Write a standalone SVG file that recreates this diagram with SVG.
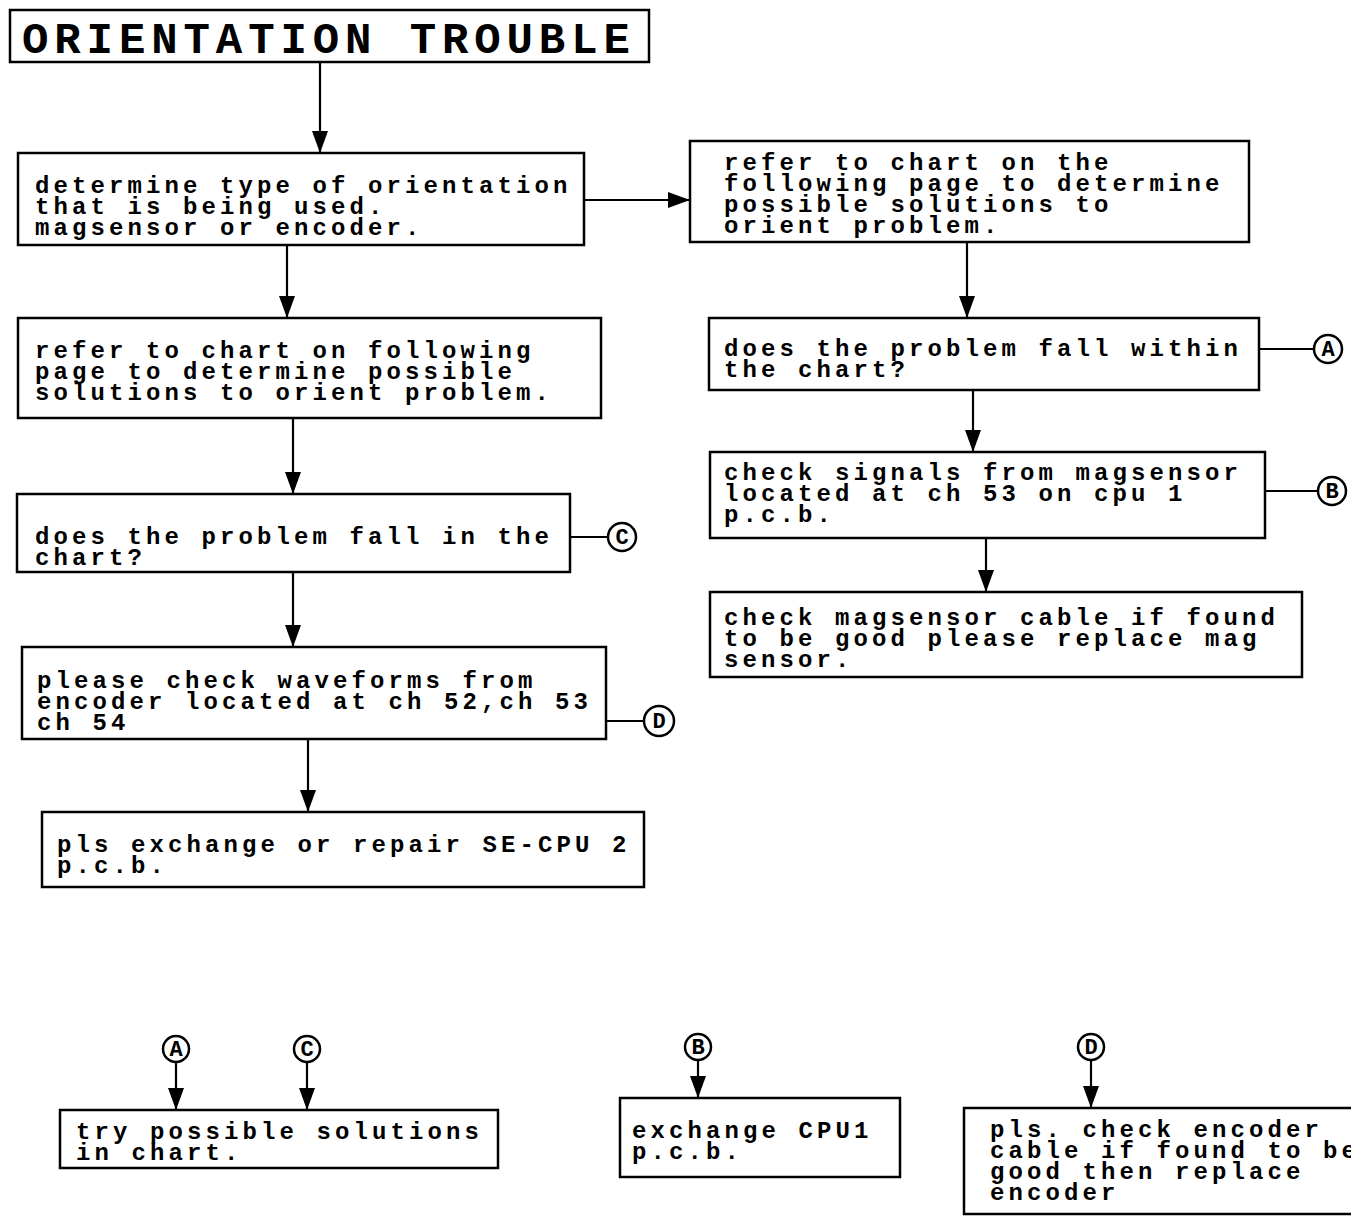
<svg xmlns="http://www.w3.org/2000/svg" width="1351" height="1216" viewBox="0 0 1351 1216">
<style>
.box{fill:#fff;stroke:#000;stroke-width:2.5}
.t{font-family:"Liberation Mono","DejaVu Sans Mono",monospace;font-size:24px;font-weight:bold;letter-spacing:4.1px;fill:#000}
.title{font-family:"Liberation Mono","DejaVu Sans Mono",monospace;font-size:44px;font-weight:bold;letter-spacing:5.9px;fill:#000}
.ln{stroke:#000;stroke-width:2.2;fill:none}
.cir{fill:#fff;stroke:#000;stroke-width:2.5}
.cl{font-family:"Liberation Mono","DejaVu Sans Mono",monospace;font-size:22px;font-weight:bold;fill:#000;text-anchor:middle}
</style>
<defs>
<marker id="ah" viewBox="0 0 22 16" refX="22" refY="8" markerWidth="22" markerHeight="16" markerUnits="userSpaceOnUse" orient="auto"><path d="M0,0 L22,8 L0,16 z" fill="#000"/></marker>
</defs>
<rect width="1351" height="1216" fill="#fff"/>
<g id="connectors">
<line class="ln" x1="320" y1="62" x2="320" y2="153" marker-end="url(#ah)"/>
<line class="ln" x1="584" y1="200" x2="690" y2="200" marker-end="url(#ah)"/>
<line class="ln" x1="287" y1="245" x2="287" y2="318" marker-end="url(#ah)"/>
<line class="ln" x1="293" y1="418" x2="293" y2="494" marker-end="url(#ah)"/>
<line class="ln" x1="293" y1="572" x2="293" y2="647" marker-end="url(#ah)"/>
<line class="ln" x1="308" y1="739" x2="308" y2="812" marker-end="url(#ah)"/>
<line class="ln" x1="570" y1="537" x2="608" y2="537"/>
<line class="ln" x1="606" y1="721" x2="644" y2="721"/>
<line class="ln" x1="967" y1="242" x2="967" y2="318" marker-end="url(#ah)"/>
<line class="ln" x1="973" y1="390" x2="973" y2="452" marker-end="url(#ah)"/>
<line class="ln" x1="986" y1="538" x2="986" y2="592" marker-end="url(#ah)"/>
<line class="ln" x1="1259" y1="349" x2="1314" y2="349"/>
<line class="ln" x1="1265" y1="491" x2="1318" y2="491"/>
<line class="ln" x1="176" y1="1062" x2="176" y2="1110" marker-end="url(#ah)"/>
<line class="ln" x1="307" y1="1062" x2="307" y2="1110" marker-end="url(#ah)"/>
<line class="ln" x1="698" y1="1060" x2="698" y2="1098" marker-end="url(#ah)"/>
<line class="ln" x1="1091" y1="1060" x2="1091" y2="1108" marker-end="url(#ah)"/>
</g>
<g id="title"><rect class="box" x="10" y="10" width="639" height="52"/><text class="title" x="22" y="53">ORIENTATION TROUBLE</text></g>
<g id="n1"><rect class="box" x="18" y="153" width="566" height="92"/>
<text class="t" x="35" y="193">determine type of orientation</text>
<text class="t" x="35" y="214">that is being used.</text>
<text class="t" x="35" y="235">magsensor or encoder.</text></g>
<g id="n2"><rect class="box" x="18" y="318" width="583" height="100"/>
<text class="t" x="35" y="358">refer to chart on following</text>
<text class="t" x="35" y="379">page to determine possible</text>
<text class="t" x="35" y="400">solutions to orient problem.</text></g>
<g id="n3"><rect class="box" x="17" y="494" width="553" height="78"/>
<text class="t" x="35" y="544">does the problem fall in the</text>
<text class="t" x="35" y="565">chart?</text></g>
<g id="n4"><rect class="box" x="22" y="647" width="584" height="92"/>
<text class="t" x="37" y="688">please check waveforms from</text>
<text class="t" x="37" y="709">encoder located at ch 52,ch 53</text>
<text class="t" x="37" y="730">ch 54</text></g>
<g id="n5"><rect class="box" x="42" y="812" width="602" height="75"/>
<text class="t" x="57" y="852">pls exchange or repair SE-CPU 2</text>
<text class="t" x="57" y="873">p.c.b.</text></g>
<g id="r1"><rect class="box" x="690" y="141" width="559" height="101"/>
<text class="t" x="724" y="170">refer to chart on the</text>
<text class="t" x="724" y="191">following page to determine</text>
<text class="t" x="724" y="212">possible solutions to</text>
<text class="t" x="724" y="233">orient problem.</text></g>
<g id="r2"><rect class="box" x="709" y="318" width="550" height="72"/>
<text class="t" x="724" y="356">does the problem fall within</text>
<text class="t" x="724" y="377">the chart?</text></g>
<g id="r3"><rect class="box" x="710" y="452" width="555" height="86"/>
<text class="t" x="724" y="480">check signals from magsensor</text>
<text class="t" x="724" y="501">located at ch 53 on cpu 1</text>
<text class="t" x="724" y="522">p.c.b.</text></g>
<g id="r4"><rect class="box" x="710" y="592" width="592" height="85"/>
<text class="t" x="724" y="625">check magsensor cable if found</text>
<text class="t" x="724" y="646">to be good please replace mag</text>
<text class="t" x="724" y="667">sensor.</text></g>
<g id="b1"><rect class="box" x="60" y="1110" width="438" height="58"/>
<text class="t" x="76" y="1139">try possible solutions</text>
<text class="t" x="76" y="1160">in chart.</text></g>
<g id="b2"><rect class="box" x="620" y="1098" width="280" height="79"/>
<text class="t" x="632" y="1138">exchange CPU1</text>
<text class="t" x="632" y="1159">p.c.b.</text></g>
<g id="b3"><rect class="box" x="964" y="1108" width="400" height="106"/>
<text class="t" x="990" y="1137">pls. check encoder</text>
<text class="t" x="990" y="1158">cable if found to be</text>
<text class="t" x="990" y="1179">good then replace</text>
<text class="t" x="990" y="1200">encoder</text></g>
<g id="cC1"><circle class="cir" cx="622" cy="537" r="14"/><text class="cl" x="622" y="544">C</text></g>
<g id="cD1"><circle class="cir" cx="659" cy="721" r="15"/><text class="cl" x="659" y="728">D</text></g>
<g id="cA1"><circle class="cir" cx="1328" cy="349" r="14"/><text class="cl" x="1328" y="356">A</text></g>
<g id="cB1"><circle class="cir" cx="1332" cy="491" r="14"/><text class="cl" x="1332" y="498">B</text></g>
<g id="cA2"><circle class="cir" cx="176" cy="1049" r="13"/><text class="cl" x="176" y="1056">A</text></g>
<g id="cC2"><circle class="cir" cx="307" cy="1049" r="13"/><text class="cl" x="307" y="1056">C</text></g>
<g id="cB2"><circle class="cir" cx="698" cy="1047" r="13"/><text class="cl" x="698" y="1054">B</text></g>
<g id="cD2"><circle class="cir" cx="1091" cy="1047" r="13"/><text class="cl" x="1091" y="1054">D</text></g>
</svg>
